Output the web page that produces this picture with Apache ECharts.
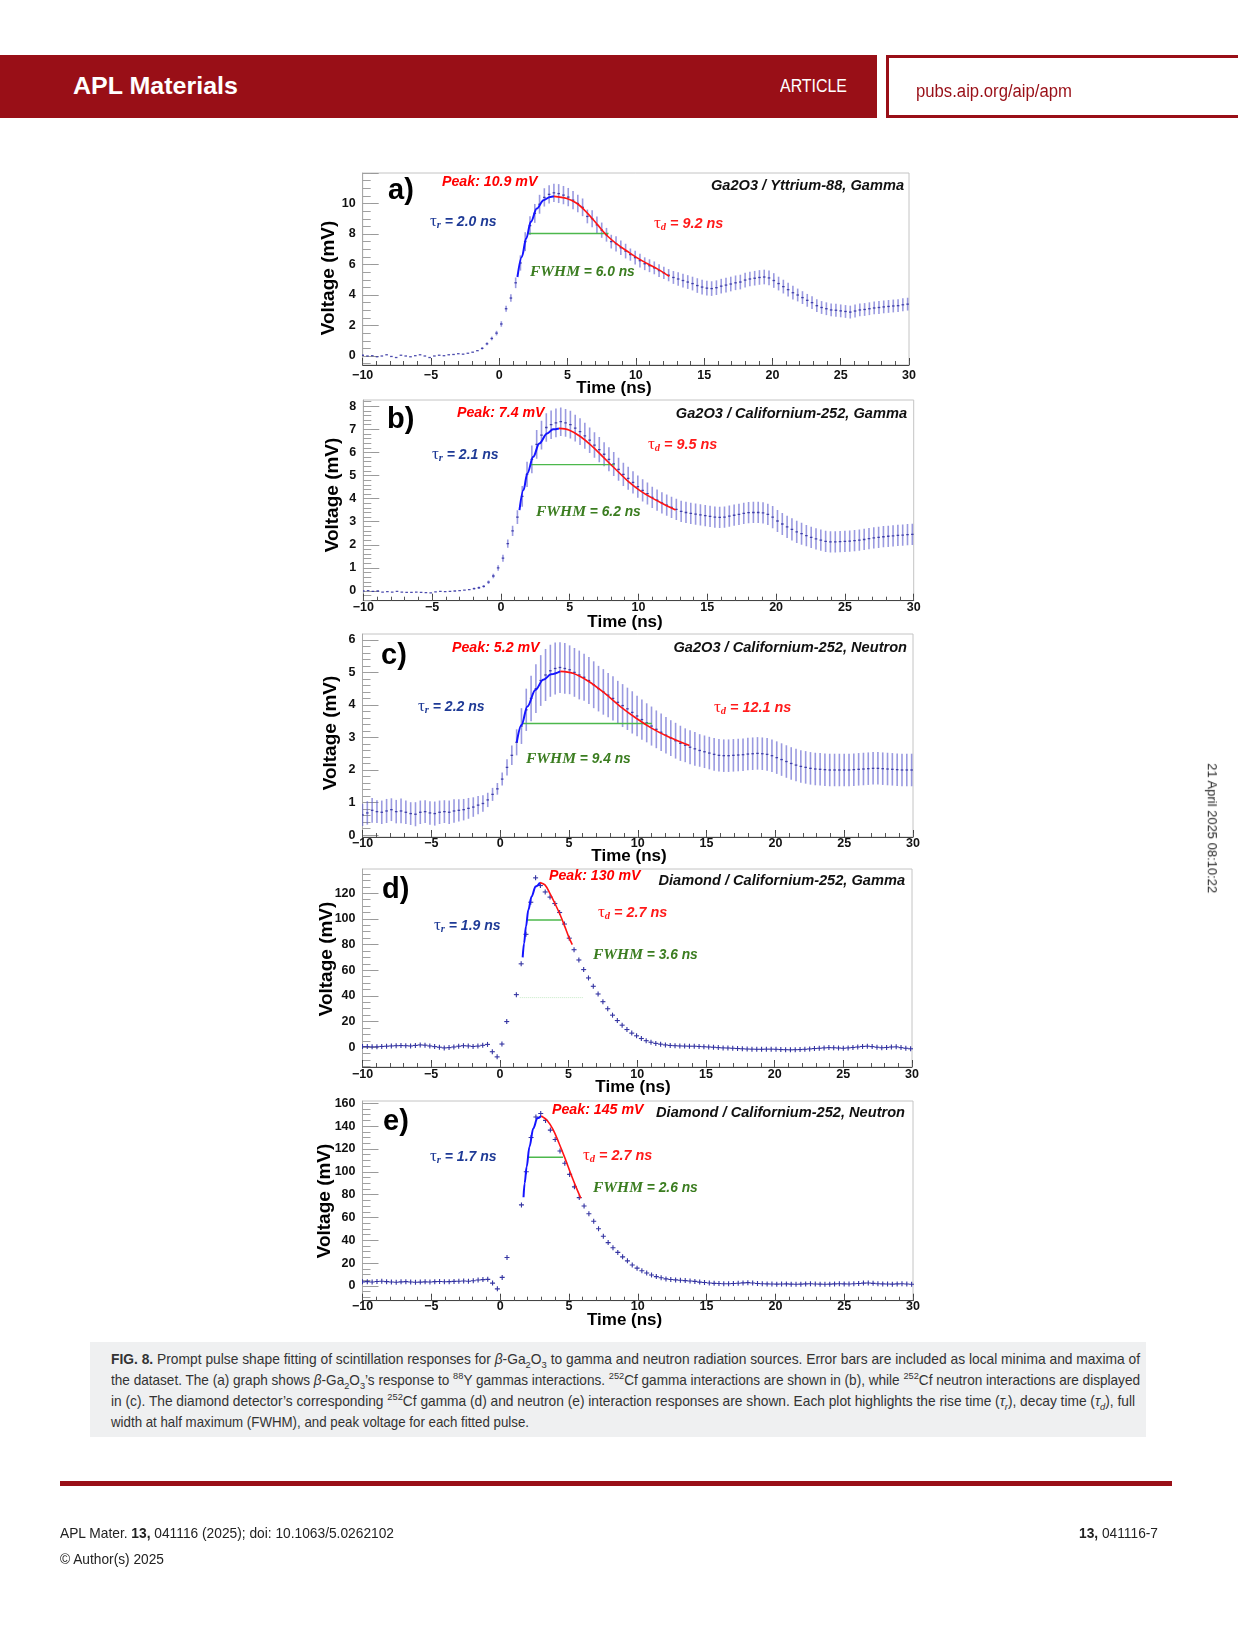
<!DOCTYPE html>
<html><head><meta charset="utf-8">
<script src="https://cdn.jsdelivr.net/npm/echarts@6/dist/echarts.min.js"></script>
<style>
html,body{margin:0;padding:0;background:#fff;}
#page{position:relative;width:1238px;height:1650px;overflow:hidden;font-family:'Liberation Sans',Arial,sans-serif;}
#chart{position:absolute;left:0;top:0;width:1238px;height:1650px;}
.t{position:absolute;white-space:nowrap;line-height:1;transform-origin:0 50%;}
.t sub,.t sup{font-size:0.68em;line-height:0;}
</style></head><body><div id="page">
<div id="chart"></div>
<div style="position:absolute;left:0;top:55px;width:877px;height:63px;background:#990f17"></div>
<div style="position:absolute;left:886px;top:55px;width:360px;height:57px;border:3px solid #990f17;border-right:none"></div>
<div style="position:absolute;left:90px;top:1342px;width:1056px;height:95px;background:#eff0f1"></div>
<div style="position:absolute;left:60px;top:1481px;width:1112px;height:5px;background:#990f17"></div>
</div>
<script>
// ---------- data ----------
const N = 115; // samples, 0.35 ns apart starting at -10 ns
const times = [];
for (let i = 0; i < N; i++) times.push(Math.round((-10 + 0.35 * i) * 100) / 100);

// (a) Ga2O3 / Y-88 gamma : values and half error bars (mV)
const aV = [0.05,0.00,0.02,-0.05,0.00,0.08,-0.03,-0.10,0.05,0.00,
 -0.05,0.02,0.08,0.00,-0.10,0.00,0.05,0.02,0.08,0.10,
 0.15,0.12,0.18,0.25,0.35,0.50,0.80,1.15,1.50,2.10,
 3.10,3.80,4.80,6.10,7.50,8.55,9.35,9.95,10.40,10.60,
 10.70,10.65,10.55,10.42,10.22,10.00,9.75,9.15,9.00,8.60,
 8.25,7.95,7.50,7.36,7.10,6.88,6.65,6.45,6.25,6.05,
 5.92,5.78,5.60,5.45,5.30,5.15,5.05,4.95,4.85,4.75,
 4.62,4.52,4.45,4.42,4.48,4.58,4.65,4.72,4.80,4.85,
 4.98,5.05,5.10,5.15,5.18,5.12,4.95,4.75,4.55,4.35,
 4.15,4.00,3.83,3.65,3.50,3.30,3.18,3.10,3.02,3.00,
 2.96,2.92,2.88,2.95,3.02,3.05,3.10,3.15,3.18,3.22,
 3.25,3.28,3.30,3.36,3.40];
const aE = [0.03,0.03,0.03,0.03,0.03,0.03,0.03,0.03,0.03,0.03,
 0.03,0.03,0.03,0.03,0.03,0.03,0.03,0.03,0.03,0.03,
 0.04,0.04,0.05,0.05,0.06,0.08,0.10,0.12,0.15,0.18,
 0.20,0.25,0.35,0.50,0.62,0.62,0.62,0.62,0.60,0.60,
 0.60,0.62,0.60,0.60,0.60,0.58,0.58,0.45,0.55,0.55,
 0.50,0.45,0.45,0.50,0.48,0.48,0.40,0.45,0.45,0.42,
 0.42,0.42,0.42,0.40,0.40,0.42,0.45,0.45,0.45,0.45,
 0.48,0.48,0.48,0.48,0.48,0.48,0.48,0.48,0.48,0.48,
 0.48,0.48,0.48,0.48,0.48,0.48,0.48,0.45,0.45,0.45,
 0.45,0.42,0.42,0.42,0.42,0.42,0.42,0.42,0.42,0.42,
 0.42,0.42,0.42,0.42,0.42,0.42,0.42,0.42,0.42,0.42,
 0.42,0.42,0.42,0.42,0.42];
const aRise = [[1.33,5.18],[1.65,6.5],[1.97,7.7],[2.31,8.8],[2.75,9.67],[3.24,10.22],[3.73,10.43],[4.0,10.47]];
const aDecay = [[4.0,10.47],[4.95,10.33],[5.7,10.0],[6.45,9.37],[7.2,8.6],[7.94,7.85],[8.67,7.3],[9.4,6.85],[10.13,6.42],[10.86,6.05],[11.6,5.7],[12.45,5.22]];
const aFwhm = [[2.1,8.03],[8.0,8.03]];

// (b) Ga2O3 / Cf-252 gamma
const bV = [0.00,0.02,-0.02,0.00,-0.05,-0.03,-0.05,-0.02,-0.05,-0.06,
 -0.06,-0.05,-0.06,-0.07,-0.08,-0.04,-0.02,-0.03,-0.02,0.00,
 0.02,0.04,0.06,0.10,0.14,0.20,0.38,0.65,1.00,1.42,
 2.05,2.60,3.20,4.10,5.05,5.70,6.35,6.75,7.08,7.20,
 7.28,7.33,7.28,7.20,7.05,6.90,6.72,6.53,6.32,6.12,
 5.92,5.70,5.50,5.27,5.05,4.88,4.70,4.52,4.36,4.22,
 4.05,3.93,3.82,3.72,3.62,3.53,3.45,3.40,3.36,3.33,
 3.30,3.26,3.23,3.20,3.19,3.20,3.24,3.28,3.32,3.36,
 3.39,3.40,3.40,3.38,3.32,3.20,3.03,2.90,2.78,2.67,
 2.56,2.48,2.40,2.32,2.26,2.20,2.15,2.13,2.13,2.14,
 2.15,2.16,2.18,2.20,2.23,2.27,2.30,2.32,2.35,2.37,
 2.39,2.41,2.42,2.44,2.45];
const bE = [0.03,0.03,0.03,0.03,0.03,0.03,0.03,0.03,0.03,0.03,
 0.03,0.03,0.03,0.03,0.03,0.03,0.03,0.03,0.03,0.03,
 0.03,0.04,0.04,0.05,0.05,0.06,0.08,0.10,0.12,0.15,
 0.18,0.22,0.30,0.45,0.55,0.60,0.62,0.62,0.62,0.62,
 0.62,0.62,0.60,0.60,0.58,0.58,0.56,0.55,0.55,0.55,
 0.52,0.52,0.52,0.50,0.50,0.50,0.48,0.48,0.48,0.48,
 0.46,0.46,0.46,0.46,0.46,0.46,0.46,0.46,0.46,0.46,
 0.46,0.46,0.46,0.46,0.46,0.46,0.46,0.46,0.46,0.46,
 0.46,0.46,0.46,0.46,0.46,0.48,0.48,0.48,0.48,0.48,
 0.48,0.48,0.46,0.46,0.46,0.46,0.46,0.46,0.46,0.46,
 0.46,0.46,0.46,0.46,0.46,0.46,0.46,0.46,0.46,0.46,
 0.46,0.46,0.46,0.46,0.46];
const bRise = [[1.35,3.5],[1.64,4.37],[1.92,5.09],[2.35,5.81],[2.79,6.39],[3.36,6.82],[3.79,7.0],[4.22,7.04]];
const bDecay = [[4.22,7.04],[4.94,6.97],[5.8,6.68],[6.66,6.25],[7.53,5.74],[8.39,5.24],[9.25,4.75],[10.11,4.35],[10.97,4.03],[11.84,3.76],[12.7,3.51]];
const bFwhm = [[2.15,5.47],[8.24,5.47]];

// (c) Ga2O3 / Cf-252 neutron
const cV = [0.62,0.68,0.76,0.72,0.70,0.74,0.78,0.72,0.74,0.70,
 0.66,0.64,0.70,0.72,0.68,0.66,0.70,0.72,0.70,0.74,
 0.76,0.78,0.82,0.86,0.92,0.97,1.08,1.25,1.42,1.72,
 2.08,2.45,2.85,3.35,3.85,4.20,4.50,4.75,4.92,5.05,
 5.12,5.15,5.12,5.08,5.00,4.92,4.85,4.75,4.62,4.50,
 4.40,4.30,4.20,4.08,3.98,3.88,3.77,3.66,3.55,3.45,
 3.35,3.25,3.16,3.07,2.98,2.90,2.82,2.76,2.70,2.65,
 2.60,2.56,2.52,2.48,2.45,2.44,2.44,2.45,2.46,2.47,
 2.49,2.50,2.51,2.50,2.48,2.44,2.38,2.32,2.26,2.20,
 2.15,2.11,2.08,2.05,2.03,2.02,2.01,2.00,2.00,2.00,
 2.00,2.00,2.01,2.02,2.03,2.04,2.05,2.05,2.04,2.03,
 2.02,2.01,2.00,2.00,2.00];
const cE = [0.34,0.36,0.38,0.35,0.36,0.37,0.35,0.36,0.38,0.36,
 0.35,0.37,0.36,0.35,0.36,0.37,0.36,0.35,0.36,0.36,
 0.34,0.33,0.32,0.30,0.28,0.25,0.22,0.20,0.18,0.20,
 0.25,0.30,0.40,0.55,0.65,0.70,0.75,0.78,0.80,0.80,
 0.80,0.78,0.78,0.75,0.75,0.75,0.72,0.72,0.72,0.70,
 0.70,0.68,0.68,0.66,0.66,0.65,0.65,0.62,0.62,0.60,
 0.60,0.58,0.58,0.56,0.55,0.55,0.54,0.52,0.52,0.52,
 0.50,0.50,0.50,0.50,0.50,0.50,0.50,0.50,0.50,0.50,
 0.50,0.50,0.50,0.50,0.50,0.50,0.50,0.50,0.50,0.50,
 0.50,0.50,0.50,0.50,0.50,0.50,0.50,0.50,0.50,0.50,
 0.50,0.50,0.50,0.50,0.50,0.50,0.50,0.50,0.50,0.50,
 0.50,0.50,0.50,0.50,0.50];
const cRise = [[1.21,2.85],[1.55,3.38],[1.98,3.95],[2.56,4.46],[3.13,4.77],[3.71,4.94],[4.37,5.03]];
const cDecay = [[4.37,5.03],[5.29,4.97],[6.44,4.72],[7.59,4.36],[8.74,3.95],[9.89,3.59],[11.03,3.28],[12.18,3.03],[13.76,2.75]];
const cFwhm = [[1.61,3.43],[11.03,3.43]];

// (d) Diamond / Cf-252 gamma (null = no point visible)
const dV = [0.5,0.5,0.3,0.4,0.6,0.8,1.0,1.2,1.3,1.2,
 1.0,1.4,1.8,1.6,1.0,0.5,0.0,-0.5,-0.3,0.2,
 0.8,1.2,1.0,0.6,0.9,1.5,2.2,-3.5,-7.5,2.5,
 20,null,41,65,88,113,132,126,121,117,
 112,105,96,85,76,68,60.5,54,47.5,41.5,
 35.5,30,25,20.8,17.2,13.8,11.0,8.9,6.8,5.1,
 3.9,3.0,2.4,1.8,1.4,1.2,1.0,0.9,0.8,0.8,
 0.6,0.4,0.2,0.0,-0.3,-0.5,-0.6,-0.8,-1.0,-1.2,
 -1.4,-1.5,-1.6,-1.6,-1.5,-1.5,-1.6,-1.8,-1.9,-2.0,
 -1.9,-1.8,-1.6,-1.3,-1.0,-0.8,-0.5,-0.3,-0.4,-0.6,
 -0.8,-0.5,-0.2,0.2,0.6,0.8,0.5,0.0,-0.4,-0.2,
 0.2,0.3,-0.3,-0.8,-1.2];
const dRise = [[1.66,70],[1.76,81],[1.9,94],[2.07,107],[2.31,117.4],[2.6,125.2],[2.92,128.3]];
const dDecay = [[2.92,128.3],[3.28,126.5],[3.64,119.9],[4.0,112.2],[4.37,103.6],[4.73,94],[5.05,85],[5.27,80]];
const dFwhm = [[1.99,99.2],[4.49,99.2]];
const dFaint = [[1.45,38.7],[6.06,38.7]];

// (e) Diamond / Cf-252 neutron (null = no point visible)
const eV = [3.6,3.8,3.5,3.9,4.2,3.8,3.5,3.3,3.6,3.8,
 3.5,3.2,3.4,3.6,3.5,3.8,3.9,3.7,3.8,4.0,
 4.1,4.3,4.2,4.6,5.2,5.6,5.8,2.5,-2.5,7.5,
 25,null,null,71,100,130,148,151,145,136.5,
 128.3,118.2,107.5,97.7,86.8,77.4,70,63.3,56.7,50.1,
 43.6,38,33.5,29.4,25.5,22,18.4,15.6,13.3,11.4,
 9.6,8.2,7.2,6.2,5.7,5.3,5.0,4.7,4.4,4.0,
 3.4,3.0,2.6,2.3,2.1,2.0,2.0,2.1,2.4,2.7,
 2.9,2.6,2.2,2.0,1.8,1.7,1.6,1.7,1.8,1.6,
 1.5,1.6,1.8,1.9,1.7,1.6,1.5,1.6,1.8,1.9,
 1.8,1.7,1.9,2.2,2.5,2.6,2.3,2.0,1.8,1.7,
 1.6,1.8,1.9,1.7,1.5];
const eRise = [[1.7,77.7],[1.78,89.9],[1.93,104.5],[2.13,122],[2.41,138],[2.7,146.8],[2.99,148.9]];
const eDecay = [[2.99,148.9],[3.42,145],[3.85,137],[4.28,125],[4.71,112],[5.14,98],[5.57,85],[5.86,77]];
const eFwhm = [[2.07,112.7],[4.57,112.7]];

// tick values
function stepList(from, to, step) { const r = []; for (let v = from; v <= to + 1e-9; v += step) r.push(Math.round(v * 1000) / 1000); return r; }
const xMajor = [-10, -5, 0, 5, 10, 15, 20, 25, 30];
const xMinor = stepList(-10, 30, 1);
const aYLabels = [0, 2, 4, 6, 8, 10];
const bYLabels = [0, 1, 2, 3, 4, 5, 6, 7, 8];
const cYLabels = [0, 1, 2, 3, 4, 5, 6];
const dYLabels = [0, 20, 40, 60, 80, 100, 120];
const eYLabels = [0, 20, 40, 60, 80, 100, 120, 140, 160];

// ---------- layout ----------
const panels = [
  {grid:{left:362.7,top:173,width:546.3,height:192}, ymin:-0.59, ymax:12.0, yLab:aYLabels, yMaj:[0,2,4,6,8,10,12], yMin:stepList(-0.5,12,0.5), xm:4,
   kind:'err', vals:aV, errs:aE, rise:aRise, decay:aDecay, fwhm:aFwhm,
   vt:[328.5,278], tt:[614,388.5],
   txt:{letter:'a)', L:[388,191], peak:'Peak: 10.9 mV', P:[442,182], label:'Ga2O3 / Yttrium-88, Gamma', R:[904,186], tr:'2.0', TR:[430,222], td:'9.2', TD:[654,224], fw:'6.0', F:[530,272]}},
  {grid:{left:363.3,top:400,width:550.4,height:200.7}, ymin:-0.42, ymax:8.27, yLab:bYLabels, yMaj:bYLabels, yMin:stepList(-0.4,8.2,0.2), xm:0.5,
   kind:'err', vals:bV, errs:bE, rise:bRise, decay:bDecay, fwhm:bFwhm,
   vt:[332.4,495], tt:[625,622.5],
   txt:{letter:'b)', L:[387,420], peak:'Peak: 7.4 mV', P:[457,413], label:'Ga2O3 / Californium-252, Gamma', R:[907,414], tr:'2.1', TR:[432,455], td:'9.5', TD:[648,445], fw:'6.2', F:[536,512]}},
  {grid:{left:362.5,top:634,width:550.5,height:203}, ymin:-0.06, ymax:6.18, yLab:cYLabels, yMaj:cYLabels, yMin:stepList(0,6,0.2), xm:0,
   kind:'err', vals:cV, errs:cE, rise:cRise, decay:cDecay, fwhm:cFwhm,
   vt:[331,733], tt:[629,856],
   txt:{letter:'c)', L:[381,656], peak:'Peak: 5.2 mV', P:[452,648], label:'Ga2O3 / Californium-252, Neutron', R:[907,648], tr:'2.2', TR:[418,707], td:'12.1', TD:[714,708], fw:'9.4', F:[526,759]}},
  {grid:{left:362.5,top:869,width:549.5,height:198}, ymin:-15.4, ymax:138.9, yLab:dYLabels, yMaj:dYLabels, yMin:stepList(-15,135,5), xm:1,
   kind:'cross', vals:dV, rise:dRise, decay:dDecay, fwhm:dFwhm, faint:dFaint,
   vt:[326.5,959], tt:[633,1087],
   txt:{letter:'d)', L:[382,890], peak:'Peak: 130 mV', P:[549,876], label:'Diamond / Californium-252, Gamma', R:[905,881], tr:'1.9', TR:[434,926], td:'2.7', TD:[598,913], fw:'3.6', F:[593,955]}},
  {grid:{left:362.5,top:1101,width:550.5,height:199.7}, ymin:-12.9, ymax:162, yLab:eYLabels, yMaj:eYLabels, yMin:stepList(-10,160,5), xm:-0.5,
   kind:'cross', vals:eV, rise:eRise, decay:eDecay, fwhm:eFwhm,
   vt:[325,1201], tt:[624.6,1320],
   txt:{letter:'e)', L:[383,1122], peak:'Peak: 145 mV', P:[552,1110], label:'Diamond / Californium-252, Neutron', R:[905,1113], tr:'1.7', TR:[430,1157], td:'2.7', TD:[583,1156], fw:'2.6', F:[593,1188]}}
];

const SANS = 'Liberation Sans, Arial, sans-serif';
const SERIF = 'Liberation Serif, Times New Roman, serif';
const fmtX = v => (v < 0 ? '\u2212' + (-v) : '' + v);

function errItem(params, api) {
  const t = api.value(0), v = api.value(1), e = api.value(2);
  if (!isFinite(v)) return null;
  const c = api.coord([t, v]), hi = api.coord([t, v + e]), lo = api.coord([t, v - e]);
  const ch = [];
  if (lo[1] - hi[1] > 2) ch.push({type:'line', shape:{x1:c[0], y1:hi[1], x2:c[0], y2:lo[1]}, style:{stroke:'rgba(92,92,205,0.62)', lineWidth:1.6}});
  ch.push({type:'line', shape:{x1:c[0]-1.3, y1:c[1], x2:c[0]+1.3, y2:c[1]}, style:{stroke:'rgba(45,45,160,0.85)', lineWidth:1.3}});
  return {type:'group', children:ch};
}
function crossItem(params, api) {
  const v = api.value(1);
  if (!isFinite(v)) return null;
  const c = api.coord([api.value(0), v]);
  return {type:'group', children:[
    {type:'line', shape:{x1:c[0]-2.5, y1:c[1], x2:c[0]+2.5, y2:c[1]}, style:{stroke:'#3434a2', lineWidth:1.1}},
    {type:'line', shape:{x1:c[0], y1:c[1]-2.5, x2:c[0], y2:c[1]+2.5}, style:{stroke:'#3434a2', lineWidth:1.1}}
  ]};
}

const grids = [], xAxes = [], yAxes = [], series = [], graphics = [];
const labelStyle = {color:'#111', fontWeight:'bold', fontSize:12.5, fontFamily:SANS};
panels.forEach((p, k) => {
  grids.push(Object.assign({show:true, borderColor:'#c4c4c4', borderWidth:1, backgroundColor:'transparent', outerBoundsMode:'none'}, p.grid));
  xAxes.push({gridIndex:k, type:'value', min:-10, max:30, position:'bottom',
    axisLine:{show:true, onZero:false, lineStyle:{color:'#444', width:1}},
    axisTick:{show:true, inside:true, length:7, customValues:xMajor, lineStyle:{color:'#444'}},
    axisLabel:Object.assign({customValues:xMajor, formatter:fmtX, margin:p.xm}, labelStyle),
    splitLine:{show:false}});
  xAxes.push({gridIndex:k, type:'value', min:-10, max:30, position:'bottom',
    axisLine:{show:false, onZero:false}, axisTick:{show:true, inside:true, length:4, customValues:xMinor, lineStyle:{color:'#555'}},
    axisLabel:{show:false}, splitLine:{show:false}});
  yAxes.push({gridIndex:k, type:'value', min:p.ymin, max:p.ymax, position:'left',
    axisLine:{show:true, onZero:false, lineStyle:{color:'#a8a8a8', width:1}},
    axisTick:{show:true, inside:true, length:16, customValues:p.yMaj, lineStyle:{color:'#9a9a9a'}},
    axisLabel:Object.assign({customValues:p.yLab, margin:7}, labelStyle),
    splitLine:{show:false}});
  yAxes.push({gridIndex:k, type:'value', min:p.ymin, max:p.ymax, position:'left',
    axisLine:{show:false, onZero:false}, axisTick:{show:true, inside:true, length:8, customValues:p.yMin, lineStyle:{color:'#a0a0a0'}},
    axisLabel:{show:false}, splitLine:{show:false}});
  const xi = 2 * k, yi = 2 * k;
  const pts = times.map((t, i) => p.kind === 'err' ? [t, p.vals[i], p.errs[i]] : [t, p.vals[i] == null ? NaN : p.vals[i]]);
  series.push({type:'custom', xAxisIndex:xi, yAxisIndex:yi, clip:true, silent:true, z:2,
    renderItem: p.kind === 'err' ? errItem : crossItem, data:pts,
    encode:{x:0, y:1}});
  if (p.faint) series.push({type:'line', xAxisIndex:xi, yAxisIndex:yi, data:p.faint, symbol:'none', silent:true, z:3,
    lineStyle:{color:'rgba(130,210,130,0.45)', width:1, type:'dotted'}});
  series.push({type:'line', xAxisIndex:xi, yAxisIndex:yi, data:p.fwhm, symbol:'none', silent:true, z:4,
    lineStyle:{color:'#4cb84c', width:1.4}});
  series.push({type:'line', xAxisIndex:xi, yAxisIndex:yi, data:p.rise, symbol:'none', smooth:0.35, smoothMonotone:'x', silent:true, z:5,
    lineStyle:{color:'#1414ff', width:2}});
  series.push({type:'line', xAxisIndex:xi, yAxisIndex:yi, data:p.decay, symbol:'none', smooth:0.35, silent:true, z:5,
    lineStyle:{color:'#ff1414', width:1.6}});

  // axis titles
  graphics.push({type:'text', x:p.vt[0], y:p.vt[1], rotation:Math.PI/2,
    style:{text:'Voltage (mV)', font:'bold 19px ' + SANS, fill:'#000', textAlign:'center', textVerticalAlign:'middle', align:'center', verticalAlign:'middle'}});
  graphics.push({type:'text', x:p.tt[0], y:p.tt[1],
    style:{text:'Time (ns)', font:'bold 17px ' + SANS, fill:'#000', textAlign:'center', textVerticalAlign:'middle', align:'center', verticalAlign:'middle'}});
  const t = p.txt;
  const mk = (x, y, style) => graphics.push({type:'text', x:x, y:y, z:10,
    style:Object.assign({textAlign:'left', textVerticalAlign:'middle', align:'left', verticalAlign:'middle'}, style)});
  mk(t.L[0], t.L[1], {text:t.letter, font:'bold 29px ' + SANS, fill:'#000'});
  mk(t.P[0], t.P[1], {text:t.peak, font:'italic bold 14.2px ' + SANS, fill:'#ff0000'});
  graphics.push({type:'text', x:t.R[0], y:t.R[1], z:10, style:{text:t.label, font:'italic bold 14.6px ' + SANS, fill:'#111',
    textAlign:'right', textVerticalAlign:'middle', align:'right', verticalAlign:'middle'}});
  const tauRich = (col, n) => ({
    t:{fontFamily:SERIF, fontSize:17, fill:col, lineHeight:18, verticalAlign:'middle'},
    s:{fontFamily:SERIF, fontSize:10.5, fontStyle:'italic', fontWeight:'bold', fill:col, lineHeight:12, verticalAlign:'bottom'},
    n:{fontFamily:SANS, fontSize:n, fontStyle:'italic', fontWeight:'bold', fill:col, lineHeight:18, verticalAlign:'middle'}
  });
  mk(t.TR[0], t.TR[1], {text:'{t|τ}{s|r}{n| = ' + t.tr + ' ns}', rich:tauRich('#1e3a96', 14), fill:'#1e3a96'});
  mk(t.TD[0], t.TD[1], {text:'{t|τ}{s|d}{n| = ' + t.td + ' ns}', rich:tauRich('#ff1a1a', 14.4), fill:'#ff1a1a'});
  mk(t.F[0], t.F[1], {text:'{f|FWHM}{n| = ' + t.fw + ' ns}', fill:'#3b7d20', rich:{
    f:{fontFamily:SERIF, fontSize:15.5, fontStyle:'italic', fontWeight:'bold', fill:'#3b7d20', lineHeight:18, verticalAlign:'middle'},
    n:{fontFamily:SANS, fontSize:13.8, fontStyle:'italic', fontWeight:'bold', fill:'#3b7d20', lineHeight:18, verticalAlign:'middle'}}});
});

const chart = echarts.init(document.getElementById('chart'), null, {renderer:'canvas'});
chart.setOption({animation:false, backgroundColor:'transparent', grid:grids, xAxis:xAxes, yAxis:yAxes, series:series, graphic:{elements:graphics}});

// ---------- page text ----------
const page = document.getElementById('page');
function addText(html, left, cy, width, size, css) {
  const d = document.createElement('div');
  d.className = 't';
  d.innerHTML = html;
  d.style.left = left + 'px';
  d.style.top = (cy - size / 2) + 'px';
  d.style.fontSize = size + 'px';
  if (css) d.style.cssText += css;
  page.appendChild(d);
  if (width) { const w = d.getBoundingClientRect().width; d.style.transform = 'scaleX(' + (width / w) + ')'; }
  return d;
}
addText('APL Materials', 73, 86, 165, 24, 'color:#fff;font-weight:bold;');
addText('ARTICLE', 780, 86, 67, 18, 'color:#fff;');
addText('pubs.aip.org/aip/apm', 916, 91, 156, 18, 'color:#990f17;');
const cap = [
  '<b>FIG. 8.</b> Prompt pulse shape fitting of scintillation responses for <i>β</i>-Ga<sub>2</sub>O<sub>3</sub> to gamma and neutron radiation sources. Error bars are included as local minima and maxima of',
  'the dataset. The (a) graph shows <i>β</i>-Ga<sub>2</sub>O<sub>3</sub>’s response to <sup>88</sup>Y gammas interactions. <sup>252</sup>Cf gamma interactions are shown in (b), while <sup>252</sup>Cf neutron interactions are displayed',
  'in (c). The diamond detector’s corresponding <sup>252</sup>Cf gamma (d) and neutron (e) interaction responses are shown. Each plot highlights the rise time (<i>τ<sub>r</sub></i>), decay time (<i>τ<sub>d</sub></i>), full',
  'width at half maximum (FWHM), and peak voltage for each fitted pulse.'
];
const capY = [1359, 1380.7, 1401.7, 1422.3], capW = [1029, 1029, 1024, 418];
cap.forEach((h, i) => addText(h, 111, capY[i], capW[i], 14.5, 'color:#333;'));
addText('APL Mater. <b>13,</b> 041116 (2025); doi: 10.1063/5.0262102', 60, 1533, 334, 14.5, 'color:#222;');
addText('© Author(s) 2025', 60, 1559, 104, 14.5, 'color:#222;');
addText('<b>13,</b> 041116-7', 1079, 1533, 79, 14.5, 'color:#222;');
// vertical date stamp
(function(){
  const d = addText('21 April 2025 08:10:22', 0, 0, 0, 12.5, 'color:#222;transform-origin:50% 50%;');
  const w = d.getBoundingClientRect().width, h = d.getBoundingClientRect().height;
  d.style.left = (1211.7 - w / 2) + 'px';
  d.style.top = (828 - h / 2) + 'px';
  d.style.transform = 'rotate(90deg) scaleX(' + (130 / w) + ')';
})();
</script>
</body></html>
